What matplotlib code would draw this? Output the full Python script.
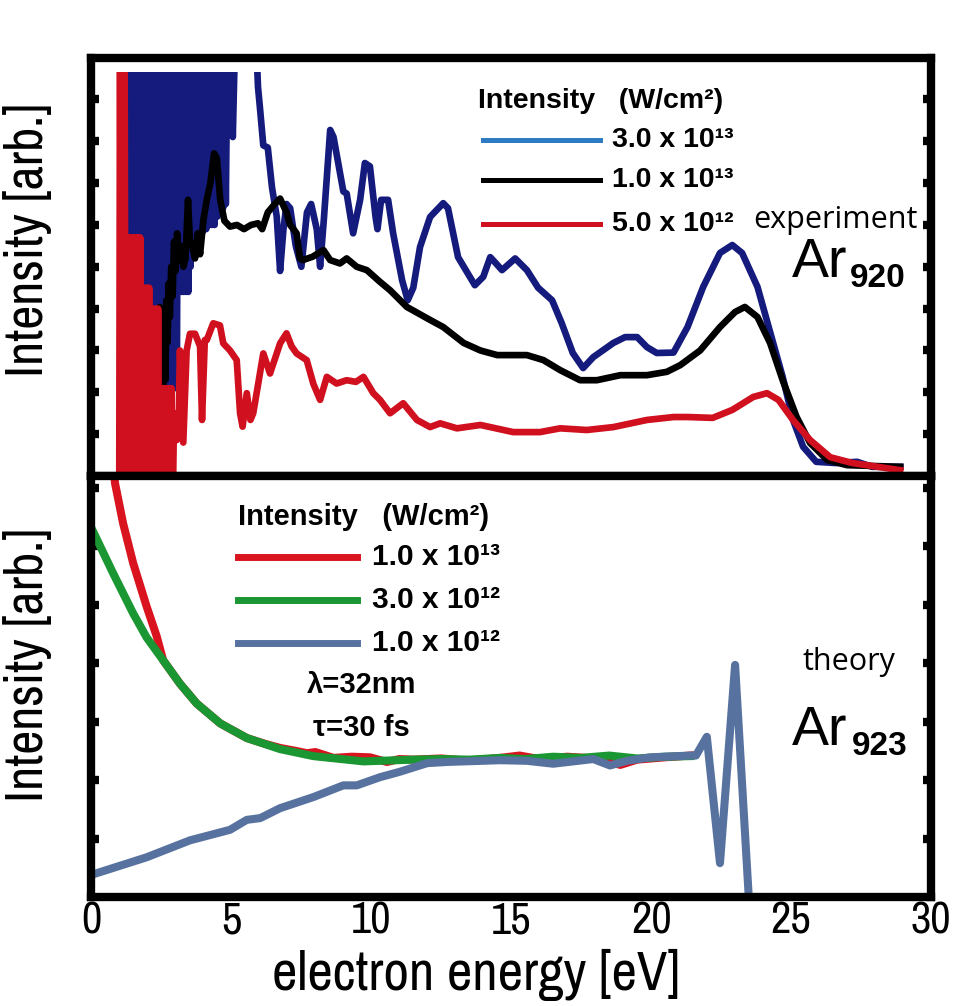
import numpy as np
import matplotlib
matplotlib.use('Agg')
import matplotlib.pyplot as plt
from matplotlib import font_manager
from matplotlib.patches import Rectangle
from matplotlib.lines import Line2D

plt.rcParams['font.family'] = ['Liberation Sans', 'DejaVu Sans']
plt.rcParams['path.simplify'] = False

installed = {f.name for f in font_manager.fontManager.ttflist}


def first_font(options, fallback):
    for name in options:
        if name in installed:
            return name
    return fallback


narrow = first_font(['Liberation Sans Narrow', 'Arial Narrow', 'Archivo Narrow', 'PT Sans Narrow',
                     'Roboto Condensed', 'IBM Plex Sans Condensed', 'Fira Sans Condensed'], 'Liberation Sans')
big = 0.82 if narrow == 'Liberation Sans' else 1.0
soft = first_font(['Open Sans', 'PT Sans'], 'DejaVu Sans')

# ---- experiment (Ar920), pairs of (energy eV, intensity arb.); 11 / -1 = off scale
exp_3e13 = [(1.25, 11), (1.29, 5.0), (1.33, 11), (1.37, 5.0), (1.41, 11), (1.45, 5.0), (1.49, 11), (1.53, 5.0),
            (1.57, 11), (1.61, 4.2), (1.65, 11), (1.69, 4.2), (1.73, 11), (1.77, 4.2), (1.81, 11), (1.85, 4.2),
            (1.89, 11), (1.93, 4.2), (1.97, 11), (2.01, 4.2), (2.05, 7.9), (2.09, 4.0), (2.13, 7.9), (2.17, 3.4),
            (2.21, 11), (2.25, 3.4), (2.29, 11), (2.33, 3.4), (2.37, 11), (2.41, 3.4), (2.45, 11), (2.49, 2.1),
            (2.53, 11), (2.57, 2.1), (2.61, 11), (2.65, 2.1), (2.69, 11), (2.73, 2.1), (2.77, 11), (2.81, 2.1),
            (2.85, 11), (2.89, 2.1), (2.93, 6.0), (2.97, 2.1), (3.01, 6.0), (3.05, 2.1), (3.10, 11), (3.14, 4.4),
            (3.18, 11), (3.22, 4.4), (3.26, 11), (3.30, 4.4), (3.34, 11), (3.38, 4.4), (3.42, 11), (3.46, 4.4),
            (3.50, 11), (3.54, 5.0), (3.58, 11), (3.62, 5.4), (3.66, 11), (3.70, 5.6), (3.74, 11), (3.78, 5.6),
            (3.82, 11), (3.86, 5.6), (3.90, 7.6), (3.95, 5.8), (4.00, 7.6), (4.05, 11), (4.10, 5.9), (4.15, 11),
            (4.20, 6.0), (4.25, 11), (4.30, 6.0), (4.35, 11), (4.40, 6.0), (4.45, 11), (4.50, 6.2), (4.55, 11),
            (4.60, 6.3), (4.65, 11), (4.70, 6.4), (4.75, 11), (4.80, 6.5), (4.87, 11), (4.95, 11), (5.05, 8.1),
            (5.15, 11), (5.85, 11), (5.95, 9.3), (6.02, 8.8), (6.14, 7.9), (6.30, 7.85), (6.45, 6.9), (6.62, 6.2),
            (6.74, 4.9), (6.86, 5.9), (6.97, 6.5), (7.10, 6.4), (7.30, 5.5), (7.50, 5.0), (7.70, 6.3), (7.85, 6.5),
            (8.05, 5.9), (8.17, 5.0), (8.30, 6.1), (8.53, 8.27), (8.65, 8.1), (9.00, 6.8), (9.12, 6.75), (9.35, 5.8),
            (9.60, 6.6), (9.77, 7.48), (9.95, 7.4), (10.15, 6.2), (10.22, 5.9), (10.35, 6.6), (10.60, 6.6),
            (10.78, 5.8), (11.10, 4.68), (11.30, 4.2), (11.50, 4.5), (11.74, 5.47), (12.10, 6.19), (12.57, 6.52),
            (12.74, 6.4), (13.10, 5.23), (13.70, 4.56), (14.00, 4.76), (14.25, 5.23), (14.43, 5.1), (14.67, 4.92),
            (15.14, 5.2), (15.56, 4.92), (15.96, 4.5), (16.46, 4.2), (16.80, 3.66), (17.20, 2.94), (17.57, 2.58),
            (17.93, 2.84), (18.65, 3.18), (19.07, 3.32), (19.50, 3.32), (19.85, 3.08), (20.20, 2.94), (20.80, 2.95),
            (21.30, 3.56), (21.86, 4.52), (22.46, 5.33), (22.90, 5.52), (23.25, 5.33), (23.80, 4.52), (24.26, 3.42),
            (24.70, 2.37), (25.07, 1.34), (25.43, 0.70), (25.90, 0.34), (26.60, 0.31), (27.36, 0.34), (27.90, 0.22),
            (28.90, 0.22)]

exp_1e13 = [(2.40, 2.0), (2.44, 4.04), (2.48, 1.34), (2.52, 3.5), (2.56, 1.8), (2.60, 4.0), (2.64, 2.3), (2.68, 4.2),
            (2.72, 3.2), (2.76, 4.6), (2.80, 3.8), (2.85, 5.0), (2.90, 4.3), (2.95, 5.6), (3.00, 4.9), (3.06, 5.8),
            (3.12, 5.16), (3.20, 5.5), (3.28, 5.0), (3.36, 5.2), (3.45, 6.6), (3.52, 5.6), (3.60, 5.5), (3.70, 5.2),
            (3.80, 5.8), (3.88, 5.3), (4.00, 6.12), (4.12, 6.6), (4.25, 7.0), (4.38, 7.71), (4.48, 7.6), (4.60, 6.6),
            (4.75, 6.1), (4.95, 5.96), (5.20, 6.0), (5.45, 5.9), (5.70, 6.0), (5.95, 6.04), (6.10, 5.9), (6.30, 6.3),
            (6.55, 6.5), (6.74, 6.63), (6.97, 6.3), (7.10, 6.0), (7.33, 5.8), (7.45, 5.2), (7.55, 5.16), (7.90, 5.24),
            (8.29, 5.4), (8.53, 5.16), (8.88, 5.08), (9.12, 5.2), (9.48, 5.0), (9.84, 4.92), (10.31, 4.64),
            (10.67, 4.44), (11.27, 4.04), (12.10, 3.73), (12.57, 3.56), (13.30, 3.18), (13.90, 3.00), (14.50, 2.89),
            (15.56, 2.89), (16.15, 2.77), (16.75, 2.53), (17.46, 2.29), (18.06, 2.29), (18.90, 2.41), (19.85, 2.41),
            (20.56, 2.49), (21.04, 2.65), (21.75, 3.00), (22.46, 3.56), (23.00, 3.92), (23.35, 4.04), (23.80, 3.80),
            (24.25, 3.18), (24.70, 2.29), (25.20, 1.41), (25.68, 0.79), (26.30, 0.38), (27.00, 0.26), (28.90, 0.22)]

exp_5e12 = [(0.99, -1), (1.02, 11), (1.06, -1), (1.10, 11), (1.14, -1), (1.18, 11), (1.22, -1), (1.26, 5.7),
            (1.30, -1), (1.34, 5.7), (1.38, -1), (1.42, 5.7), (1.46, -1), (1.50, 5.7), (1.54, -1), (1.58, 5.7),
            (1.62, -1), (1.66, 5.7), (1.70, -1), (1.74, 5.7), (1.78, -1), (1.82, 4.5), (1.86, -1), (1.90, 4.5),
            (1.94, -1), (1.98, 4.5), (2.02, -1), (2.06, 4.5), (2.10, -1), (2.14, 4.0), (2.18, -1), (2.22, 4.0),
            (2.26, -1), (2.30, 4.0), (2.34, -1), (2.38, 4.0), (2.42, -1), (2.46, 2.1), (2.50, -1), (2.54, 2.1),
            (2.58, -1), (2.62, 2.1), (2.66, -1), (2.70, 2.1), (2.74, -1), (2.78, 2.1), (2.82, -1), (2.86, 2.1),
            (2.90, -1), (2.95, 1.5), (3.05, 0.86), (3.12, 1.5), (3.16, 3.0), (3.28, 0.8), (3.40, 3.0), (3.52, 3.4),
            (3.70, 3.4), (3.88, 3.1), (3.95, 1.34), (4.05, 3.25), (4.12, 3.25), (4.35, 3.65), (4.59, 3.6),
            (4.71, 3.17), (4.95, 3.0), (5.19, 2.77), (5.31, 1.5), (5.40, 1.18), (5.55, 1.98), (5.68, 1.34),
            (5.78, 1.5), (6.14, 2.93), (6.38, 2.45), (6.74, 3.17), (6.97, 3.41), (7.15, 3.1), (7.33, 2.93),
            (7.69, 2.77), (7.93, 2.2), (8.17, 1.82), (8.41, 2.37), (8.76, 2.21), (9.12, 2.29), (9.45, 2.25),
            (9.72, 2.37), (10.07, 1.98), (10.31, 1.82), (10.67, 1.5), (11.14, 1.74), (11.63, 1.34), (12.10, 1.17),
            (12.46, 1.26), (13.06, 1.14), (13.90, 1.22), (15.07, 1.05), (16.03, 1.05), (16.75, 1.14), (17.70, 1.1),
            (18.65, 1.17), (19.85, 1.34), (20.80, 1.41), (21.30, 1.41), (22.20, 1.39), (22.90, 1.58), (23.65, 1.89),
            (24.14, 1.98), (24.55, 1.82), (25.07, 1.34), (25.68, 0.86), (26.40, 0.45), (27.20, 0.31), (28.90, 0.14)]

exp_labels = ['3.0 x 10\u00b9\u00b3', '1.0 x 10\u00b9\u00b3', '5.0 x 10\u00b9\u00b2']

# ---- theory (Ar923)
th_1e13 = [(0.70, 7.8), (0.84, 7.08), (1.13, 6.39), (1.49, 5.71), (1.97, 4.97), (2.33, 4.46), (2.56, 4.05),
           (3.16, 3.65), (3.76, 3.31), (4.60, 2.97), (5.55, 2.72), (6.20, 2.62), (6.74, 2.55), (7.30, 2.50),
           (7.70, 2.46), (8.00, 2.48), (8.65, 2.38), (9.30, 2.40), (9.95, 2.39), (10.56, 2.31), (11.00, 2.36),
           (11.50, 2.35), (12.50, 2.37), (13.50, 2.33), (14.60, 2.38), (15.30, 2.42), (16.00, 2.36), (17.00, 2.40),
           (18.00, 2.37), (18.90, 2.26), (19.50, 2.35), (20.50, 2.39), (21.40, 2.42)]

th_3e12 = [(0.00, 6.31), (0.77, 5.54), (1.49, 4.85), (1.97, 4.44), (2.56, 4.05), (3.16, 3.65), (3.76, 3.31),
           (4.60, 2.97), (5.55, 2.72), (6.74, 2.53), (7.93, 2.41), (9.72, 2.32), (11.50, 2.35), (12.50, 2.36),
           (13.50, 2.35), (14.60, 2.38), (15.50, 2.36), (16.50, 2.40), (17.50, 2.38), (18.50, 2.42), (19.50, 2.37),
           (20.50, 2.40), (21.40, 2.41)]

th_1e12 = [(0.00, 0.38), (1.97, 0.68), (3.52, 0.97), (4.95, 1.15), (5.55, 1.32), (6.03, 1.35), (6.74, 1.52),
           (7.93, 1.71), (9.00, 1.91), (9.48, 1.91), (10.31, 2.05), (11.00, 2.14), (12.00, 2.29), (12.70, 2.31),
           (14.60, 2.34), (15.56, 2.33), (16.50, 2.28), (17.93, 2.36), (18.53, 2.25), (19.13, 2.33), (19.97, 2.39),
           (21.40, 2.42), (21.60, 2.42), (21.99, 2.74), (22.46, 0.58), (23.00, 3.97), (23.55, -0.5)]

th_labels = ['1.0 x 10\u00b9\u00b3', '3.0 x 10\u00b9\u00b2', '1.0 x 10\u00b9\u00b2']

xticks = [0, 5, 10, 15, 20, 25, 30]

fig = plt.figure(figsize=(9.57, 10.06), dpi=100)
ax_exp = fig.add_axes([0.0956, 0.5268, 0.8772, 0.4160])
ax_th = fig.add_axes([0.0956, 0.1083, 0.8772, 0.4185])

# experiment panel
clip = Rectangle((0, 0.1), 30, 9.55, transform=ax_exp.transData)
for data, col in [(exp_3e13, '#141b7d'), (exp_1e13, 'black'), (exp_5e12, '#d0101e')]:
    e, v = np.array(data).T
    ln, = ax_exp.plot(e, v, color=col, lw=4.8)
    ln.set_clip_path(clip)
ax_exp.set_ylim(0, 10)
ax_exp.set_yticks(range(1, 10))

# theory panel
for data, col in [(th_1e13, '#d9141f'), (th_3e12, '#1a9632'), (th_1e12, '#5872a0')]:
    e, v = np.array(data).T
    ax_th.plot(e, v, color=col, lw=5.8)
ax_th.set_ylim(0, 7.2)
ax_th.set_yticks(range(1, 8))

for ax in (ax_exp, ax_th):
    ax.set_xlim(0, 30)
    ax.set_xticks(xticks)
    ax.set_xticks(xticks[1:-1], minor=True)
    ax.tick_params(axis='x', which='major', length=0, pad=3)
    ax.tick_params(axis='x', which='minor', direction='in', length=8, width=9, top=True, bottom=True)
    ax.tick_params(axis='y', direction='in', length=6, width=6, left=True, right=True, labelleft=False)
    for s in ax.spines.values():
        s.set_linewidth(6)

ax_exp.tick_params(axis='x', labelbottom=False)
ax_th.set_xticklabels([str(t) for t in xticks], fontfamily=narrow, fontsize=32 * big)
ax_th.set_xlabel('electron energy [eV]', fontfamily=narrow, fontsize=40 * big, va='center')
ax_th.xaxis.set_label_coords(0.458, -0.185)

for yc in (240, 665):
    fig.text(28 / 957, 1 - yc / 1006, 'Intensity [arb.]', rotation=90, ha='center', va='center',
             fontfamily=narrow, fontsize=38 * big)

# experiment legend
ax_exp.text(0.4604, 0.896, 'Intensity   (W/cm\u00b2)', transform=ax_exp.transAxes, fontsize=20.5,
            fontweight='bold', va='center')
for fy, col, lab in zip([0.803, 0.707, 0.602], ['#2e7bc4', 'black', '#d0101e'], exp_labels):
    ax_exp.add_line(Line2D([0.4664, 0.6058], [fy, fy], transform=ax_exp.transAxes, color=col, lw=3.6))
    ax_exp.text(0.620, fy, lab, transform=ax_exp.transAxes, fontsize=20.5, fontweight='bold', va='center')
ax_exp.text(0.788, 0.5926, 'experiment', transform=ax_exp.transAxes, fontsize=22,
            fontfamily=[soft, 'DejaVu Sans'], va='baseline')
ax_exp.text(0.8344, 0.4755, 'Ar', transform=ax_exp.transAxes, fontsize=40, va='baseline')
ax_exp.text(0.9035, 0.4516, '920', transform=ax_exp.transAxes, fontsize=24, fontweight='bold', va='baseline')

# theory legend
ax_th.text(0.1745, 0.9026, 'Intensity   (W/cm\u00b2)', transform=ax_th.transAxes, fontsize=21,
           fontweight='bold', va='center')
for fy, col, lab in zip([0.8076, 0.7055, 0.6033], ['#d9141f', '#1a9632', '#5872a0'], th_labels):
    ax_th.add_line(Line2D([0.1745, 0.3162], [fy, fy], transform=ax_th.transAxes, color=col, lw=5))
    ax_th.text(0.3341, fy, lab, transform=ax_th.transAxes, fontsize=21.5, fontweight='bold', va='center')
ax_th.text(0.2567, 0.5036, '\u03bb=32nm', transform=ax_th.transAxes, fontsize=21, fontweight='bold', va='center')
ax_th.text(0.2638, 0.4014, '\u03c4=30 fs', transform=ax_th.transAxes, fontsize=21, fontweight='bold', va='center')
ax_th.text(0.8475, 0.5392, 'theory', transform=ax_th.transAxes, fontsize=22,
           fontfamily=[soft, 'DejaVu Sans'], va='baseline')
ax_th.text(0.8344, 0.3610, 'Ar', transform=ax_th.transAxes, fontsize=40, va='baseline')
ax_th.text(0.9059, 0.3373, '923', transform=ax_th.transAxes, fontsize=24, fontweight='bold', va='baseline')

fig.savefig('out.png', dpi=100)
